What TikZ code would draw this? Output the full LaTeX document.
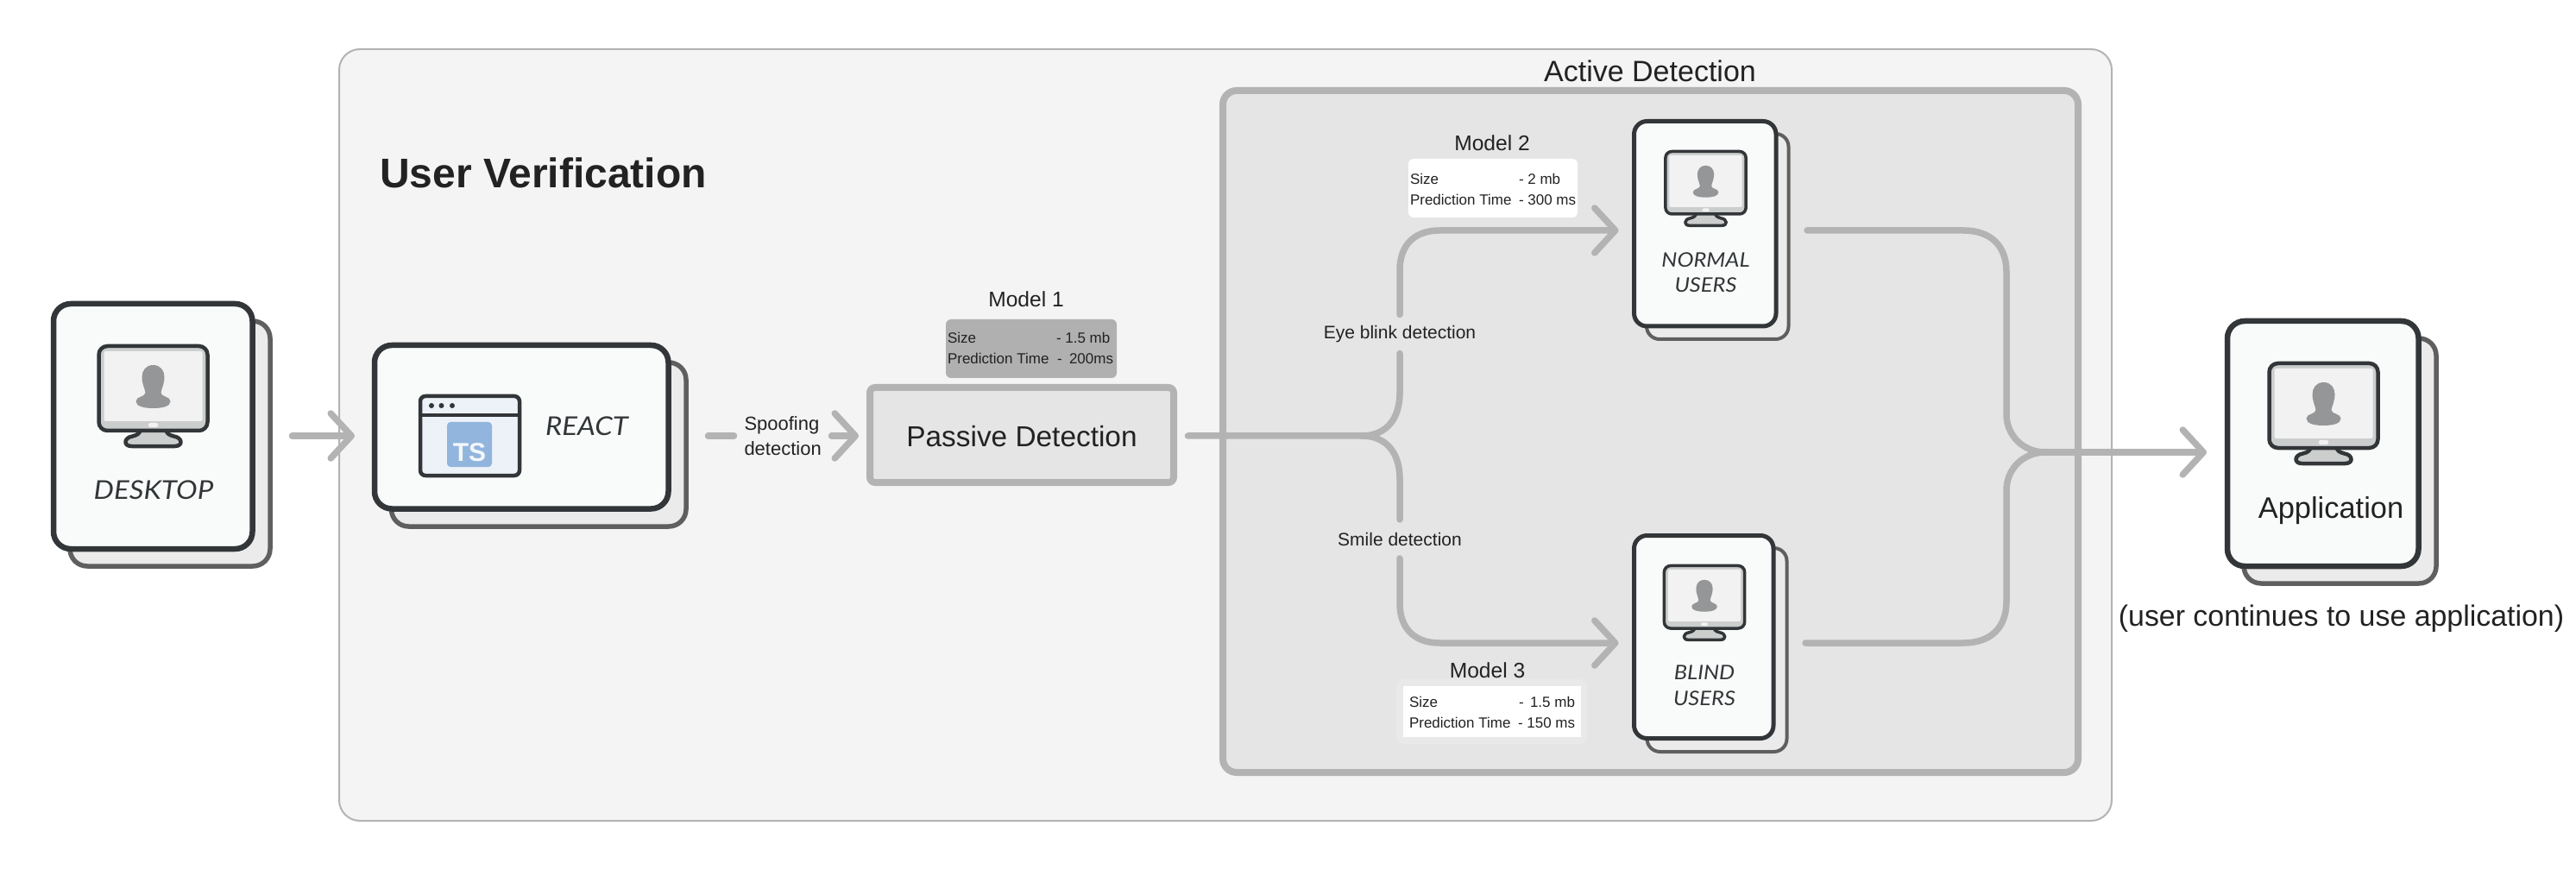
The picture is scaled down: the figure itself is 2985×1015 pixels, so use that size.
\documentclass[tikz,border=0pt]{standalone}
\usepackage{fontspec}
\setmainfont{Liberation Sans}
\newfontfamily\capsfont[FakeStretch=1.1]{Lato}
\usetikzlibrary{arrows.meta}
\definecolor{flowc}{HTML}{B3B3B3}
\definecolor{inkc}{HTML}{333638}
\definecolor{backc}{HTML}{5F5F5F}
\definecolor{txtc}{HTML}{222222}
\definecolor{panelc}{HTML}{F4F4F4}
\definecolor{innerc}{HTML}{E5E5E5}
\definecolor{cardc}{HTML}{F9FBFA}
\definecolor{cardb}{HTML}{EBEBEB}
\definecolor{monbody}{HTML}{CCCECD}
\definecolor{monscreen}{HTML}{F2F2F2}
\definecolor{monman}{HTML}{959697}
\definecolor{browserc}{HTML}{EDF2F9}
\definecolor{tsc}{HTML}{92B5DE}
\definecolor{tstext}{HTML}{F4F7FB}
\definecolor{mgrey}{HTML}{B0B0B0}
\definecolor{mhalo}{HTML}{E9E9E9}
\newcommand\bx[6]{\node[#1,minimum width={(#5-#3)*0.5pt},minimum height={(#6-#4)*0.5pt}] (#2) at ({(#3+#5)/2},{(#4+#6)/2}) {};}
\newcommand\monitorat[4]{%
\begin{scope}[shift={(#1,#2)},scale=#3]
\draw[line width=#4,draw=inkc,fill=monbody,line join=round] (-15,98) .. controls (-15,103) and (-18,105) .. (-24,106.5) .. controls (-34,108) and (-35,118) .. (-25,118) -- (25,118) .. controls (35,118) and (34,108) .. (24,106.5) .. controls (18,105) and (15,103) .. (15,98) -- cycle;
\draw[line width=#4,draw=inkc,fill=monbody,rounded corners=#3*5pt] (-63,2) rectangle (63,100);
\fill[fill=monscreen,rounded corners=#3*1pt] (-57,8) rectangle (57,89);
\fill[fill=monscreen,rounded corners=#3*1pt] (-5.5,91) rectangle (5.5,96);
\fill[fill=monman] (0,24) .. controls (-9,24) and (-13,31) .. (-13,38) .. controls (-13,46) and (-10,50) .. (-9,56) .. controls (-9,61) and (-20,60) .. (-20,66) .. controls (-20,72) and (-10,74) .. (0,74) .. controls (10,74) and (20,72) .. (20,66) .. controls (20,60) and (9,61) .. (9,56) .. controls (10,50) and (13,46) .. (13,38) .. controls (13,31) and (9,24) .. (0,24) -- cycle;
\end{scope}}
\tikzset{
  boxbase/.style={rectangle,inner sep=0pt,outer sep=0pt},
  panel/.style={boxbase,draw=flowc,line width=1pt,fill=panelc,rounded corners=12pt},
  activebox/.style={boxbase,draw=flowc,line width=4pt,fill=innerc,rounded corners=8pt},
  passivebox/.style={boxbase,draw=flowc,line width=4pt,fill=innerc,rounded corners=3pt},
  bigfront/.style={boxbase,draw=inkc,line width=3.25pt,fill=cardc,rounded corners=10pt},
  bigback/.style={boxbase,draw=backc,line width=2.75pt,fill=cardb,rounded corners=10pt},
  smallfront/.style={boxbase,draw=inkc,line width=2.5pt,fill=cardc,rounded corners=7.5pt},
  smallback/.style={boxbase,draw=backc,line width=2pt,fill=cardb,rounded corners=7.5pt},
  flowline/.style={draw=flowc,line width=3.75pt,line cap=round},
  flowarrow/.style={flowline,-{Straight Barb[round,length=12pt,width=26pt,line width=3.75pt]}},
  gen/.style={inner sep=0pt,outer sep=0pt,text=txtc},
  info/.style={gen,anchor=west,text height=6pt,text depth=0pt,font=\fontsize{8.5}{10}\selectfont},
  modeltitle/.style={gen,font=\fontsize{12.3}{14}\selectfont},
  capslabel/.style={gen,text=inkc,font=\capsfont\itshape\fontsize{15}{18}\selectfont},
  capsmall/.style={gen,text=inkc,font=\capsfont\itshape\fontsize{11.6}{15}\selectfont},
  gaplabel/.style={gen,font=\fontsize{10.5}{12}\selectfont,minimum height=22.5pt},
  whitecard/.style={boxbase,fill=white,rounded corners=3pt},
}
\begin{document}
\begin{tikzpicture}[x=0.5pt,y=-0.5pt]
\useasboundingbox (0,0) rectangle (2985,1015);
\bx{panel}{mainpanel}{393}{57}{2447}{951}
\bx{activebox}{active}{1417}{105}{2408}{895}
\node[gen,font=\bfseries\fontsize{24}{28}\selectfont] (uv) at (629.5,200) {User Verification};
\node[gen,font=\fontsize{17}{20}\selectfont] (adt) at (1912,82) {Active Detection};
%
\bx{passivebox}{passive}{1008}{449}{1360}{559}
\node[gen,font=\fontsize{16.7}{20}\selectfont] (pdt) at (1184,505.5) {Passive Detection};
% labels on connectors
\coordinate (ny) at (0,267);
\coordinate (by) at (0,745);
\coordinate (ry) at (0,505);
\coordinate (j1) at (1578,505);
\coordinate (j2) at (2370,524);
\node[gen,font=\fontsize{11}{14.5}\selectfont,align=left,text width=44.5pt,inner xsep=6pt] (spoof) at (907,505) {Spoofing\\detection};
\node[gaplabel] (eye) at (1622,387) {Eye blink detection};
\node[gaplabel] (smile) at (1622,624.5) {Smile detection};
% cards
\bx{bigback}{deskb}{81}{372}{313}{656}
\bx{bigfront}{desk}{62}{352}{292.5}{636}
\bx{bigback}{reactb}{453.5}{420}{795}{610}
\bx{bigfront}{react}{434}{400}{774.5}{589.5}
\bx{smallback}{normb}{1908}{155}{2072.5}{393}
\bx{smallfront}{norm}{1893.5}{140.5}{2058}{378}
\bx{smallback}{blindb}{1908.5}{635}{2070.5}{871}
\bx{smallfront}{blind}{1893.5}{620.5}{2055}{855.5}
\bx{bigback}{appb}{2600}{392}{2823}{676}
\bx{bigfront}{app}{2581}{372}{2802.5}{656}
% connectors
\draw[flowarrow] ([xshift=12.75pt]deskb.east |- ry) -- ([xshift=-11.5pt]react.west |- ry);
\draw[flowline] ([xshift=12.75pt]reactb.east |- ry) -- (spoof.west);
\draw[flowarrow] (spoof.east) -- ([xshift=-6.5pt]passive.west |- ry);
\draw[flowline] ([xshift=8.25pt]passive.east |- ry) -- (j1) .. controls (1604,505) and (1622,488) .. (1622,455) -- (eye.south);
\draw[flowline] (j1) .. controls (1604,505) and (1622,522) .. (1622,555) -- (smile.north);
\draw[flowarrow] (eye.north) -- (1622,313) .. controls (1622,283) and (1640,267) .. (1668,267) -- ([xshift=-9pt]norm.west |- ny);
\draw[flowarrow] (smile.south) -- (1622,699) .. controls (1622,729) and (1640,745) .. (1668,745) -- ([xshift=-9pt]blind.west |- by);
\draw[flowline] ([xshift=10.75pt]normb.east |- ny) -- (2275,267) .. controls (2307,267) and (2325,285) .. (2325,315) -- (2325,480) .. controls (2325,505) and (2345,524) .. (j2);
\draw[flowline] ([xshift=10.75pt]blindb.east |- by) -- (2275,745) .. controls (2307,745) and (2325,727) .. (2325,697) -- (2325,568) .. controls (2325,543) and (2345,524) .. (j2);
\draw[flowarrow] (j2) -- ([xshift=-12pt]app.west |- j2);
% monitors
\monitorat{177.5}{399}{1}{2.25pt}
\monitorat{2692.5}{419}{1}{2.25pt}
\monitorat{1976.5}{174}{0.74}{1.75pt}
\monitorat{1975}{654}{0.74}{1.75pt}
% card labels
\node[capslabel] (deskt) at (178,568) {DESKTOP};
\node[capslabel] (reactt) at (680,494) {REACT};
\node[capsmall] (n1) at (1976.5,301) {NORMAL};
\node[capsmall] (n2) at (1976.5,330) {USERS};
\node[capsmall] (b1) at (1975,779) {BLIND};
\node[capsmall] (b2) at (1975,809) {USERS};
\node[gen,font=\fontsize{17.2}{20}\selectfont] (appt) at (2701,592) {Application};
\node[gen,font=\fontsize{16.95}{20}\selectfont] (appn) at (2713,717) {(user continues to use application)};
% browser icon
\draw[line width=2.25pt,draw=inkc,fill=browserc,rounded corners=3pt] (487,459) rectangle (602,551);
\draw[line width=2.25pt,draw=inkc] (487,481) -- (602,481);
\fill[inkc] (500,470) circle[radius=3];
\fill[inkc] (511.5,470) circle[radius=3];
\fill[inkc] (524,470) circle[radius=3];
\node[boxbase,fill=tsc,rounded corners=2pt,minimum width=26pt,minimum height=26pt] (ts) at (544,515) {};
\node[inner sep=0pt,text=tstext,font=\bfseries\fontsize{15}{16}\selectfont] (tst) at (544,524) {TS};
% model 1
\node[modeltitle] (m1) at (1189,347) {Model 1};
\bx{boxbase,fill=mgrey,rounded corners=3pt}{m1c}{1096}{370}{1294}{438}
\node[info] (m1a) at (1098,392) {Size};
\node[info] (m1b) at (1224,392) {- 1.5 mb};
\node[info] (m1c1) at (1098,416) {Prediction Time};
\node[info] (m1d) at (1225,416) {-};
\node[info] (m1e) at (1239,416) {200ms};
% model 2
\node[modeltitle] (m2) at (1729,166) {Model 2};
\bx{whitecard}{m2c}{1632}{184}{1828}{252}
\node[info] (m2a) at (1634,208) {Size};
\node[info] (m2b) at (1760,208) {- 2 mb};
\node[info] (m2c1) at (1634,232) {Prediction Time};
\node[info] (m2d) at (1760,232) {- 300 ms};
% model 3
\node[modeltitle] (m3) at (1723.5,777) {Model 3};
\bx{boxbase,fill=mhalo,rounded corners=4pt}{m3h}{1618}{787}{1839}{862}
\bx{boxbase,fill=white}{m3c}{1626}{795}{1832}{854}
\node[info] (m3a) at (1633,813) {Size};
\node[info] (m3b) at (1760,813) {-};
\node[info] (m3b2) at (1773,813) {1.5 mb};
\node[info] (m3c1) at (1633,837) {Prediction Time};
\node[info] (m3d) at (1759,837) {- 150 ms};
\end{tikzpicture}
\end{document}
